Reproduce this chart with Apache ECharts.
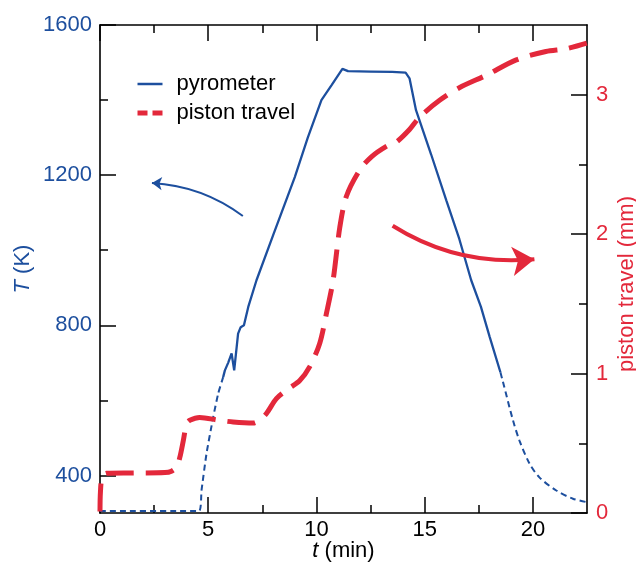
<!DOCTYPE html>
<html>
<head>
<meta charset="utf-8">
<script src="https://cdn.jsdelivr.net/npm/echarts@6/dist/echarts.min.js"></script>
<style>
  html, body { margin: 0; padding: 0; background: #fff; }
  #main { width: 636px; height: 564px; }
</style>
</head>
<body>
<div id="main"></div>
<script>
// 数据 (t 单位 min)
var pyroLeadT = [0, 4.57, 4.69, 4.92, 5.23, 5.46, 5.69];
var pyroLeadK = [305, 305, 360, 458, 555, 618, 662];

var pyroT = [5.69, 5.77, 5.92, 6.08, 6.2, 6.38, 6.5, 6.65, 6.85, 7.23, 8.0, 9.0, 9.6, 10.23, 10.7, 11.2, 11.46, 12.5, 13.5, 14.12, 14.3, 14.6, 15.3, 16.0, 16.6, 17.15, 17.6, 18.0, 18.5];
var pyroK = [662, 680, 700, 725, 680, 778, 795, 800, 849, 920, 1040, 1195, 1300, 1400, 1440, 1483, 1477, 1476, 1475, 1473, 1458, 1373, 1255, 1133, 1030, 920, 849, 770, 675];

var pyroTailT = [18.5, 18.6, 19.08, 19.38, 19.85, 20.3, 21.08, 21.85, 22.49];
var pyroTailK = [675, 653, 547, 493, 431, 395, 360, 338, 329];

var pistonT = [0, 0.02, 0.1, 0.3, 1.5, 3.0, 3.3, 3.54, 3.69, 3.85, 4.0, 4.15, 4.6, 5.5, 6.15, 7.08, 7.4, 7.69, 8.15, 8.7, 9.23, 9.69, 10.15, 10.46, 10.77, 11.08, 11.38, 12.0, 12.54, 13.23, 13.69, 14.3, 14.77, 15.69, 16.6, 17.85, 19.23, 20.6, 21.54, 22.49];
var pistonMM = [0.01, 0.15, 0.26, 0.285, 0.287, 0.29, 0.30, 0.33, 0.40, 0.52, 0.64, 0.665, 0.685, 0.665, 0.653, 0.646, 0.67, 0.713, 0.82, 0.89, 0.95, 1.05, 1.216, 1.43, 1.67, 2.05, 2.27, 2.46, 2.555, 2.63, 2.66, 2.75, 2.84, 2.96, 3.05, 3.14, 3.25, 3.31, 3.33, 3.37];

// 刻度
var xMajor = [0, 5, 10, 15, 20];
var xMinor = [2.5, 7.5, 12.5, 17.5];
var kMajor = [400, 800, 1200, 1600];
var kMinor = [600, 1000, 1400];
var mmMajor = [0, 1, 2, 3];
var mmMinor = [0.5, 1.5, 2.5];

// 箭头 (注释)
var blueArrow = [[6.6, 1091], [2.4, 1179]];
var redArrow = [[13.52, 2.06], [20.07, 1.82]];

var BLUE = '#1d4f9e';
var RED = '#e3283b';
var FONT = 'Liberation Sans';

function zip(a, b) {
    var out = [];
    for (var i = 0; i < a.length; i++) out.push([a[i], b[i]]);
    return out;
}

var axisLine = { show: true, onZero: false, lineStyle: { color: '#000', width: 1.6 } };
var tickLine = { color: '#000', width: 1.5 };

// 数据轴: 只画轴线和标签
function dataAxis(pos, min, max, labelVals, labelColor, margin) {
    return {
        type: 'value', position: pos, min: min, max: max,
        nameMoveOverlap: false,
        axisLine: axisLine,
        axisTick: { show: false },
        axisLabel: {
            show: true, customValues: labelVals, margin: margin, fontSize: 22, color: labelColor, fontFamily: FONT,
            formatter: function (v) { return String(v); }
        },
        splitLine: { show: false }
    };
}
// 刻度轴: 只画刻度
function tickAxis(pos, min, max, ticks, len) {
    return {
        type: 'value', position: pos, min: min, max: max,
        axisLine: { show: false, onZero: false },
        axisTick: { show: true, inside: true, length: len, customValues: ticks, lineStyle: tickLine },
        axisLabel: { show: false },
        splitLine: { show: false }
    };
}

var xBottom = dataAxis('bottom', 0, 22.5, xMajor, '#000', 6);
xBottom.name = '{i|t} (min)';
xBottom.nameLocation = 'middle';
xBottom.nameGap = 27;
xBottom.nameTextStyle = { fontSize: 22, color: '#000', fontFamily: FONT, rich: { i: { fontStyle: 'italic', fontSize: 22, fontFamily: FONT } } };

var xTop = dataAxis('top', 0, 22.5, [], '#000', 6);
xTop.axisLabel = { show: false };

var yLeft = dataAxis('left', 300, 1600, kMajor, BLUE, 8);
yLeft.name = '{i|T} (K)';
yLeft.nameLocation = 'middle';
yLeft.nameRotate = 90;
yLeft.nameGap = 66;
yLeft.nameTextStyle = { fontSize: 22, color: BLUE, fontFamily: FONT, rich: { i: { fontStyle: 'italic', fontSize: 22, color: BLUE, fontFamily: FONT } } };

var yRight = dataAxis('right', 0, 3.5, mmMajor, RED, 9);
yRight.name = 'piston travel (mm)';
yRight.nameLocation = 'middle';
yRight.nameRotate = 90;
yRight.nameGap = 29;
yRight.nameTextStyle = { fontSize: 22, color: RED, fontFamily: FONT, padding: [0, 30, 0, 0] };

var myChart = echarts.init(document.getElementById('main'), null, { renderer: 'canvas' });

var hideSym = { color: 'rgba(0,0,0,0)', borderColor: 'rgba(0,0,0,0)', borderWidth: 0, opacity: 0 };

myChart.setOption({
    animation: false,
    backgroundColor: '#fff',
    textStyle: { fontFamily: FONT },
    grid: { left: 100, right: 49, top: 25, bottom: 51, containLabel: false, outerBoundsMode: 'none' },
    legend: {
        orient: 'vertical',
        left: 135,
        top: 73,
        padding: 0,
        itemWidth: 25,
        itemHeight: 14,
        itemGap: 7,
        textStyle: { fontSize: 22, color: '#000', fontFamily: FONT, lineHeight: 22, padding: [0, 0, 0, 9] },
        data: [
            { name: 'pyrometer', itemStyle: hideSym, lineStyle: { width: 2.5 } },
            { name: 'piston travel', itemStyle: hideSym, lineStyle: { type: [10, 5], width: 5 } }
        ]
    },
    xAxis: [
        xBottom,
        xTop,
        tickAxis('bottom', 0, 22.5, xMajor, 16),
        tickAxis('bottom', 0, 22.5, xMinor, 8),
        tickAxis('top', 0, 22.5, xMajor, 16),
        tickAxis('top', 0, 22.5, xMinor, 8)
    ],
    yAxis: [
        yLeft,
        yRight,
        tickAxis('left', 300, 1600, kMajor, 16),
        tickAxis('left', 300, 1600, kMinor, 8),
        tickAxis('right', 0, 3.5, mmMajor, 16),
        tickAxis('right', 0, 3.5, mmMinor, 8)
    ],
    series: [
        {
            name: 'pyrometer lead', type: 'line', xAxisIndex: 0, yAxisIndex: 0,
            data: zip(pyroLeadT, pyroLeadK), showSymbol: false, symbol: 'none', smooth: 0.2,
            lineStyle: { color: BLUE, width: 2, type: [6, 4] }, z: 2
        },
        {
            name: 'piston travel', type: 'line', xAxisIndex: 0, yAxisIndex: 1,
            data: zip(pistonT, pistonMM), showSymbol: false, symbol: 'none', smooth: 0.3,
            itemStyle: { color: RED },
            lineStyle: { color: RED, width: 5, type: [28, 12], cap: 'butt' }, z: 3
        },
        {
            name: 'pyrometer', type: 'line', xAxisIndex: 0, yAxisIndex: 0,
            data: zip(pyroT, pyroK), showSymbol: false, symbol: 'none',
            itemStyle: { color: BLUE },
            lineStyle: { color: BLUE, width: 2.3 }, z: 4
        },
        {
            name: 'pyrometer tail', type: 'line', xAxisIndex: 0, yAxisIndex: 0,
            data: zip(pyroTailT, pyroTailK), showSymbol: false, symbol: 'none', smooth: 0.3,
            lineStyle: { color: BLUE, width: 2, type: [6, 4] }, z: 4
        },
        {
            name: 'arrow T', type: 'lines', coordinateSystem: 'cartesian2d', xAxisIndex: 0, yAxisIndex: 0,
            symbol: ['none', 'arrow'], symbolSize: 10, silent: true,
            lineStyle: { color: BLUE, width: 2, curveness: -0.15, opacity: 1 },
            data: [{ coords: blueArrow }], z: 5
        },
        {
            name: 'arrow piston', type: 'lines', coordinateSystem: 'cartesian2d', xAxisIndex: 0, yAxisIndex: 1,
            symbol: ['none', 'arrow'], symbolSize: 22, silent: true,
            lineStyle: { color: RED, width: 4, curveness: -0.17, opacity: 1 },
            data: [{ coords: redArrow }], z: 5
        }
    ]
});
</script>
</body>
</html>
